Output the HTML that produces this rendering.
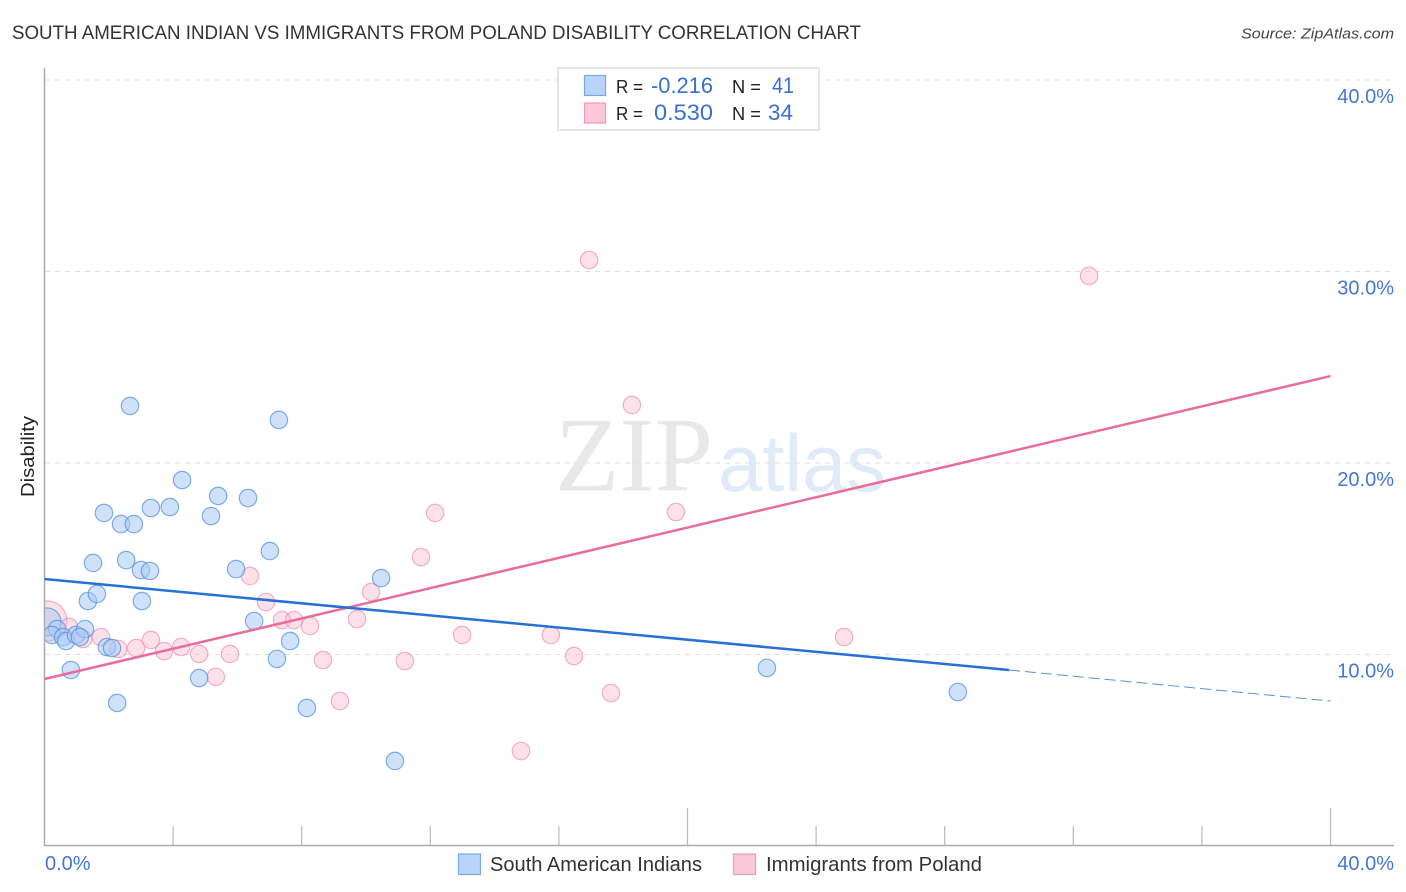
<!DOCTYPE html>
<html>
<head>
<meta charset="utf-8">
<style>
html,body{margin:0;padding:0;background:#fff;width:1406px;height:892px;overflow:hidden}
svg{display:block;font-family:"Liberation Sans",sans-serif}
</style>
</head>
<body>
<svg id="chart" width="1406" height="892" viewBox="0 0 1406 892">
<text x="12" y="39" font-size="19" fill="#333" textLength="849" lengthAdjust="spacingAndGlyphs">SOUTH AMERICAN INDIAN VS IMMIGRANTS FROM POLAND DISABILITY CORRELATION CHART</text>
<text x="1394" y="38.5" font-size="15" fill="#444" font-style="italic" text-anchor="end" textLength="153" lengthAdjust="spacingAndGlyphs">Source: ZipAtlas.com</text>
<g id="watermark">
<text x="555" y="490.5" font-family="'Liberation Serif',serif" font-size="106" fill="#e8e8e8" textLength="158" lengthAdjust="spacingAndGlyphs">ZIP</text>
<text x="718" y="491" font-size="81" fill="#e0ebf9" textLength="168" lengthAdjust="spacingAndGlyphs">atlas</text>
</g>
<g id="grid"></g>
<g id="points"></g>
<rect x="0" y="590" width="44" height="60" fill="#fff"/>
<g id="axes"></g>
<g id="trends"></g>
<g id="labels"></g>
<text transform="translate(34,456.5) rotate(-90)" font-size="18" fill="#222" text-anchor="middle" textLength="81" lengthAdjust="spacingAndGlyphs">Disability</text>
<g>
<rect x="558" y="68" width="261" height="62" fill="#fff" stroke="#ddd" stroke-width="1.5"/>
<rect x="584.5" y="75.5" width="21" height="20" fill="#b8d4f8" stroke="#78a8e6" stroke-width="1.2"/>
<rect x="584.5" y="103" width="21" height="20" fill="#fcc8da" stroke="#f09ab8" stroke-width="1.2"/>
<text x="616" y="93" font-size="18.5" fill="#222" textLength="27" lengthAdjust="spacingAndGlyphs">R =</text>
<text x="651" y="93" font-size="22" fill="#3a6fd0" textLength="62" lengthAdjust="spacingAndGlyphs">-0.216</text>
<text x="732" y="93" font-size="18.5" fill="#222" textLength="29" lengthAdjust="spacingAndGlyphs">N =</text>
<text x="772" y="93" font-size="22" fill="#3a6fd0" textLength="22" lengthAdjust="spacingAndGlyphs">41</text>
<text x="616" y="120" font-size="18.5" fill="#222" textLength="27" lengthAdjust="spacingAndGlyphs">R =</text>
<text x="654" y="120" font-size="22" fill="#3a6fd0" textLength="59" lengthAdjust="spacingAndGlyphs">0.530</text>
<text x="732" y="120" font-size="18.5" fill="#222" textLength="29" lengthAdjust="spacingAndGlyphs">N =</text>
<text x="768" y="120" font-size="22" fill="#3a6fd0" textLength="25" lengthAdjust="spacingAndGlyphs">34</text>
</g>
<g>
<rect x="458.5" y="854" width="22" height="20.5" fill="#b8d4f8" stroke="#78a8e6" stroke-width="1.2"/>
<text x="490" y="871" font-size="20" fill="#333" textLength="212" lengthAdjust="spacingAndGlyphs">South American Indians</text>
<rect x="733.5" y="854" width="22" height="20.5" fill="#fcc8da" stroke="#f09ab8" stroke-width="1.2"/>
<text x="766" y="871" font-size="20" fill="#333" textLength="216" lengthAdjust="spacingAndGlyphs">Immigrants from Poland</text>
</g>
</svg>
<script>
const yTicks = [10, 20, 30, 40];
const yTickLabels = ['10.0%', '20.0%', '30.0%', '40.0%'];
const xTicks = [4, 8, 12, 16, 20, 24, 28, 32, 36, 40];
const xMajorTicks = [20, 40];
const xEndLabels = ['0.0%', '40.0%'];

const blueX = [0.08,0.39,0.23,0.58,0.67,0.98,1.26,1.10,1.94,2.10,0.82,2.26,1.35,1.63,3.03,3.00,3.28,1.51,2.54,5.96,6.52,7.64,7.23,4.81,8.16,2.66,7.29,4.28,5.40,6.33,1.85,2.38,2.78,3.31,3.90,5.18,7.01,10.47,10.90,22.47,28.41];
const blueY = [11.70,11.33,11.02,10.91,10.70,11.02,11.33,10.91,10.39,10.34,9.19,7.47,12.79,13.16,12.79,14.41,14.36,14.78,14.93,14.46,11.75,10.70,9.77,8.77,7.21,22.98,22.25,19.11,18.28,18.17,17.39,16.81,16.81,17.65,17.70,17.23,15.40,13.99,4.44,9.30,8.04];
const blueWeight = [14,8.7,8.7,8.7,8.7,8.7,8.7,8.7,8.7,8.7,8.7,8.7,8.7,8.7,8.7,8.7,8.7,8.7,8.7,8.7,8.7,8.7,8.7,8.7,8.7,8.7,8.7,8.7,8.7,8.7,8.7,8.7,8.7,8.7,8.7,8.7,8.7,8.7,8.7,8.7,8.7];
const pinkX = [0.08,0.76,1.20,1.76,2.29,2.85,3.31,3.72,4.25,4.81,5.77,5.33,6.39,6.89,7.39,7.76,8.26,8.66,9.19,10.16,9.72,11.21,11.71,12.15,12.99,14.82,15.75,16.47,17.62,16.94,18.27,19.64,24.87,32.49];
const pinkY = [11.75,11.44,10.81,10.91,10.29,10.34,10.76,10.18,10.39,10.03,10.03,8.83,14.10,12.74,11.80,11.80,11.49,9.71,7.57,13.26,11.85,9.66,15.09,17.39,11.02,4.96,11.02,9.92,7.99,30.60,23.03,17.44,10.91,29.77];
const pinkWeight = [20,8.7,8.7,8.7,8.7,8.7,8.7,8.7,8.7,8.7,8.7,8.7,8.7,8.7,8.7,8.7,8.7,8.7,8.7,8.7,8.7,8.7,8.7,8.7,8.7,8.7,8.7,8.7,8.7,8.7,8.7,8.7,8.7,8.7];

const blueTrendX = [0, 30];
const blueTrendY = [13.94, 9.19];
const blueDashX = [30, 40];
const blueDashY = [9.19, 7.57];
const pinkTrendX = [0, 40];
const pinkTrendY = [8.72, 24.54];

const NS = 'http://www.w3.org/2000/svg';
function sx(v){ return 44.5 + v * 32.15; }
function sy(v){ return 654.5 - (v - 10) * 19.15; }
function make(parent, tag, attrs){
  const el = document.createElementNS(NS, tag);
  for (const k in attrs) el.setAttribute(k, attrs[k]);
  document.getElementById(parent).appendChild(el);
  return el;
}

yTicks.forEach(function(t){
  const line = make('grid', 'line', {x1:45, x2:1394, y1:sy(t), y2:sy(t), stroke:'#e0e0e0', 'stroke-width':1, 'stroke-dasharray':'5 5'});
  
  
});

const yAxis = make('axes', 'line', {x1:44.5, x2:44.5, y1:68, y2:846, stroke:'#aaa', 'stroke-width':1.5});


const xAxis = make('axes', 'line', {x1:44, x2:1394, y1:845.5, y2:845.5, stroke:'#aaa', 'stroke-width':1.5});


xTicks.forEach(function(t){
  const top = xMajorTicks.indexOf(t) >= 0 ? 808 : 826;
  const tick = make('axes', 'line', {x1:sx(t), x2:sx(t), y1:top, y2:845, stroke:'#bbb', 'stroke-width':1.2});
  
  
});

function drawSeries(xs, ys, rs, fill, fillOpacity, stroke, name){
  xs.forEach(function(x, i){
    const c = make('points', 'circle', {cx:sx(x), cy:sy(ys[i]), r:rs[i], fill:fill, 'fill-opacity':fillOpacity, stroke:stroke, 'stroke-opacity':0.7, 'stroke-width':1.2});
    
    
  });
}
drawSeries(pinkX, pinkY, pinkWeight, '#f9bcd2', 0.45, '#ee90b0', 'immigrants-from-poland');
drawSeries(blueX, blueY, blueWeight, '#a9cbf5', 0.55, '#4f8ddc', 'south-american-indians');

const pinkLine = make('trends', 'line', {x1:sx(pinkTrendX[0]), y1:sy(pinkTrendY[0]), x2:sx(pinkTrendX[1]), y2:sy(pinkTrendY[1]), stroke:'#e86c9c', 'stroke-width':2.5});


const blueLine = make('trends', 'line', {x1:sx(blueTrendX[0]), y1:sy(blueTrendY[0]), x2:sx(blueTrendX[1]), y2:sy(blueTrendY[1]), stroke:'#2670d8', 'stroke-width':2.5});


const blueDash = make('trends', 'line', {x1:sx(blueDashX[0]), y1:sy(blueDashY[0]), x2:sx(blueDashX[1]), y2:sy(blueDashY[1]), stroke:'#5a90d8', 'stroke-width':1, 'stroke-dasharray':'11 5'});



yTicks.forEach(function(t, i){
  const lab = make('labels', 'text', {x:1394, y:sy(t) + 23, 'font-size':20, fill:'#4577d3', 'text-anchor':'end'});
  lab.textContent = yTickLabels[i];
  
  
});
const xStart = make('labels', 'text', {x:45, y:870, 'font-size':20, fill:'#4577d3'});
xStart.textContent = xEndLabels[0];


const xEnd = make('labels', 'text', {x:1394, y:870, 'font-size':20, fill:'#4577d3', 'text-anchor':'end'});
xEnd.textContent = xEndLabels[1];


</script>
</body>
</html>
